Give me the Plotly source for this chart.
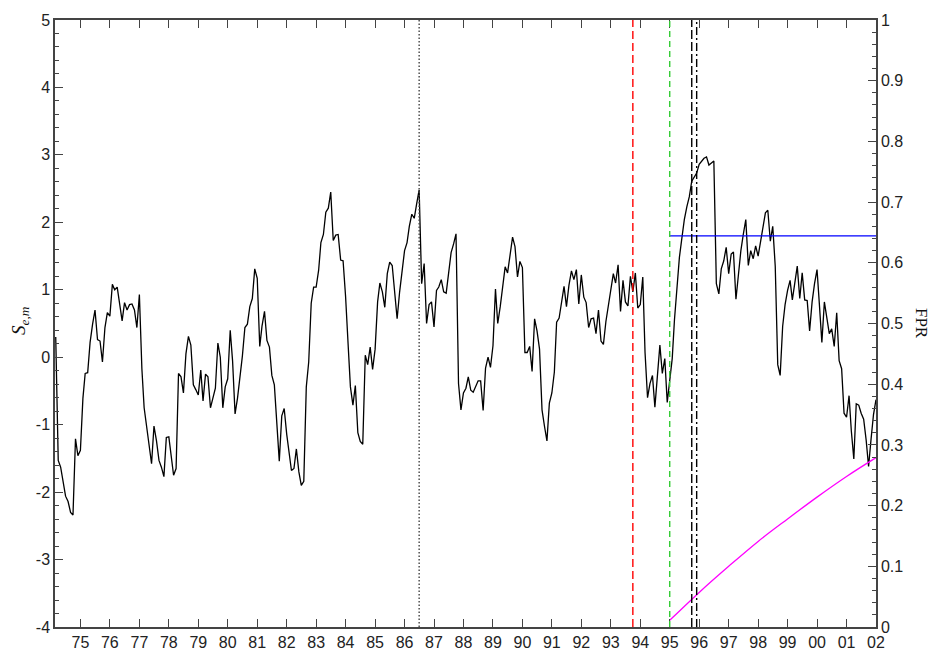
import pandas as pd
import plotly.graph_objects as go

# Monthly index S_{e,m}, March 1974 .. January 2002
series_start = "1974-03-01"
s_values = [
    0.30, -1.53, -1.63, -1.85, -2.06, -2.14, -2.30, -2.34, -1.21, -1.46,
    -1.38, -0.61, -0.24, -0.23, 0.22, 0.49, 0.70, 0.26, 0.24, -0.07,
    0.44, 0.66, 0.61, 1.08, 1.00, 1.04, 0.80, 0.54, 0.81, 0.70,
    0.78, 0.79, 0.70, 0.44, 0.93, -0.17, -0.75, -1.05, -1.29, -1.58,
    -1.02, -1.24, -1.53, -1.63, -1.77, -1.19, -1.18, -1.50, -1.75, -1.65,
    -0.24, -0.29, -0.53, 0.05, 0.31, 0.18, -0.41, -0.48, -0.56, -0.19,
    -0.65, -0.25, -0.29, -0.75, -0.61, -0.46, 0.21, 0.00, -0.75, -0.44,
    -0.32, 0.40, -0.05, -0.84, -0.61, -0.32, 0.02, 0.44, 0.49, 0.75,
    0.87, 1.31, 1.17, 0.16, 0.46, 0.68, 0.25, 0.15, -0.27, -0.41,
    -0.95, -1.54, -0.87, -0.76, -1.14, -1.43, -1.68, -1.65, -1.36, -1.70,
    -1.90, -1.84, -0.44, -0.07, 0.80, 1.04, 1.04, 1.29, 1.70, 1.82,
    2.15, 2.21, 2.45, 1.73, 1.81, 1.82, 1.44, 1.43, 0.90, 0.20,
    -0.44, -0.71, -0.42, -1.12, -1.25, -1.29, 0.03, -0.11, 0.15, -0.18,
    0.12, 0.82, 1.10, 0.97, 0.74, 1.24, 1.41, 1.36, 0.97, 0.57,
    0.97, 1.29, 1.58, 1.70, 1.94, 2.12, 2.06, 2.28, 2.48, 1.09,
    1.39, 0.50, 0.78, 0.82, 0.45, 0.99, 1.04, 1.15, 0.97, 0.95,
    1.26, 1.55, 1.68, 1.83, -0.39, -0.78, -0.53, -0.46, -0.29, -0.49,
    -0.52, -0.44, -0.35, -0.35, -0.79, -0.16, 0.00, -0.15, 0.17, 1.01,
    0.50, 0.75, 1.07, 1.34, 1.25, 1.55, 1.78, 1.64, 1.19, 1.42,
    1.33, 0.07, 0.07, 0.16, -0.21, 0.57, 0.39, 0.12, -0.78, -1.02,
    -1.24, -0.68, -0.53, -0.22, 0.52, 0.58, 0.82, 1.05, 0.75, 1.07,
    1.28, 1.15, 1.30, 0.79, 1.22, 0.89, 0.81, 0.44, 0.57, 0.58,
    0.35, 0.70, 0.24, 0.19, 0.53, 0.78, 0.97, 1.24, 1.10, 1.37,
    0.68, 1.14, 0.82, 0.76, 1.20, 0.97, 1.25, 0.73, 0.78, 1.19,
    0.07, -0.60, -0.39, -0.27, -0.74, -0.22, 0.18, -0.24, -0.02, -0.67,
    -0.36, -0.02, 0.56, 1.09, 1.48, 1.77, 2.04, 2.23, 2.38, 2.61,
    2.67, 2.73, 2.86, 2.91, 2.95, 2.97, 2.85, 2.88, 2.91, 1.09,
    0.94, 1.31, 1.43, 1.63, 1.24, 1.53, 1.56, 0.86, 1.24, 1.58,
    1.82, 2.04, 1.36, 1.58, 1.46, 1.65, 1.50, 1.73, 1.92, 2.14,
    2.18, 1.72, 1.94, 1.35, -0.11, -0.27, 0.46, 0.78, 0.99, 1.14,
    0.85, 1.14, 1.35, 0.87, 1.25, 0.85, 0.84, 0.39, 0.82, 1.09,
    1.30, 0.75, 0.22, 0.82, 0.61, 0.35, 0.42, 0.16, 0.66, -0.05,
    -0.17, -0.83, -0.89, -0.57, -1.09, -1.51, -0.69, -0.71, -0.83, -0.92,
    -1.23, -1.62, -1.21, -0.85, -0.63,
]
s_dates = pd.date_range(series_start, periods=len(s_values), freq="MS")

# Threshold on S and false-positive rate over the out-of-sample period
threshold_dates = ["1995-01-01", "2002-01-01"]
threshold_value = 1.8
fpr_dates = ["1995-01-01", "1996-01-01", "1997-01-01", "1998-01-01",
             "1999-01-01", "2000-01-01", "2001-01-01", "2002-01-01"]
fpr_values = [0.011, 0.057, 0.100, 0.141, 0.178, 0.214, 0.248, 0.279]

# Event markers: (date, colour, dash pattern)
event_dates = ["1986-07-01", "1993-10-01", "1995-01-01", "1995-10-01", "1995-12-01"]
event_colors = ["#444444", "#ff0000", "#33cc33", "#000000", "#000000"]
event_dashes = ["1.5px,2px", "8px,4px", "6px,4px", "9px,3px", "8px,3px,2px,3px"]

left_ticks = [5, 4, 3, 2, 1, 0, -1, -2, -3, -4]
left_labels = ["5", "4", "3", "2", "1", "0", "-1", "-2", "-3", "-4"]
right_ticks = [0, 0.1, 0.2, 0.3, 0.4, 0.5, 0.6, 0.7, 0.8, 0.9, 1]
right_labels = ["0", "0.1", "0.2", "0.3", "0.4", "0.5", "0.6", "0.7", "0.8", "0.9", "1"]

axis_col = "#444444"
tick_font = dict(family="Liberation Sans, Arial, sans-serif", size=16, color="#222222")

fig = go.Figure()
fig.add_trace(go.Scatter(x=s_dates, y=s_values, mode="lines",
                         line=dict(color="black", width=1.3), yaxis="y"))
fig.add_trace(go.Scatter(x=threshold_dates, y=[threshold_value] * len(threshold_dates),
                         mode="lines", line=dict(color="#0000ff", width=1.3), yaxis="y"))
fig.add_trace(go.Scatter(x=fpr_dates, y=fpr_values, mode="lines",
                         line=dict(color="#ff00ff", width=1.3, shape="spline"), yaxis="y2"))

for d, c, dash in zip(event_dates, event_colors, event_dashes):
    fig.add_shape(type="line", xref="x", yref="paper", x0=d, x1=d, y0=0, y1=1,
                  line=dict(color=c, width=1.4, dash=dash))

fig.update_layout(
    width=936, height=663,
    margin=dict(l=55, r=60, t=15, b=30),
    paper_bgcolor="white", plot_bgcolor="white",
    showlegend=False,
    xaxis=dict(
        type="date", range=["1974-02-20", "2002-01-01"],
        tick0="1975-01-01", dtick="M12", tickformat="%y",
        ticks="inside", ticklen=8, tickwidth=1.2, tickcolor=axis_col,
        showline=True, linecolor=axis_col, linewidth=1.5, mirror="ticks",
        showgrid=False, zeroline=False, tickfont=tick_font,
    ),
    yaxis=dict(
        range=[-4, 5], tickvals=left_ticks, ticktext=left_labels,
        ticks="inside", ticklen=8, tickwidth=1.2, tickcolor=axis_col,
        minor=dict(dtick=0.2, ticks="inside", ticklen=4, tickcolor=axis_col, showgrid=False),
        showline=True, linecolor=axis_col, linewidth=1.5,
        showgrid=False, zeroline=False, tickfont=tick_font,
    ),
    yaxis2=dict(
        range=[0, 1], overlaying="y", side="right",
        tickvals=right_ticks, ticktext=right_labels,
        ticks="inside", ticklen=8, tickwidth=1.2, tickcolor=axis_col,
        minor=dict(dtick=0.02, ticks="inside", ticklen=4, tickcolor=axis_col, showgrid=False),
        showline=True, linecolor=axis_col, linewidth=1.5,
        showgrid=False, zeroline=False, tickfont=tick_font,
    ),
    annotations=[
        dict(text="<i>S</i><sub><i>e,m</i></sub>", xref="paper", yref="paper",
             x=-0.042, y=0.505, xanchor="center", yanchor="middle",
             textangle=-90, showarrow=False,
             font=dict(family="Liberation Serif, Times New Roman, serif", size=19, color="#111111")),
        dict(text="FPR", xref="paper", yref="paper",
             x=1.0555, y=0.5, xanchor="center", yanchor="middle",
             textangle=90, showarrow=False,
             font=dict(family="Liberation Serif, Times New Roman, serif", size=17, color="#111111")),
    ],
)

fig.write_html("out.html")
